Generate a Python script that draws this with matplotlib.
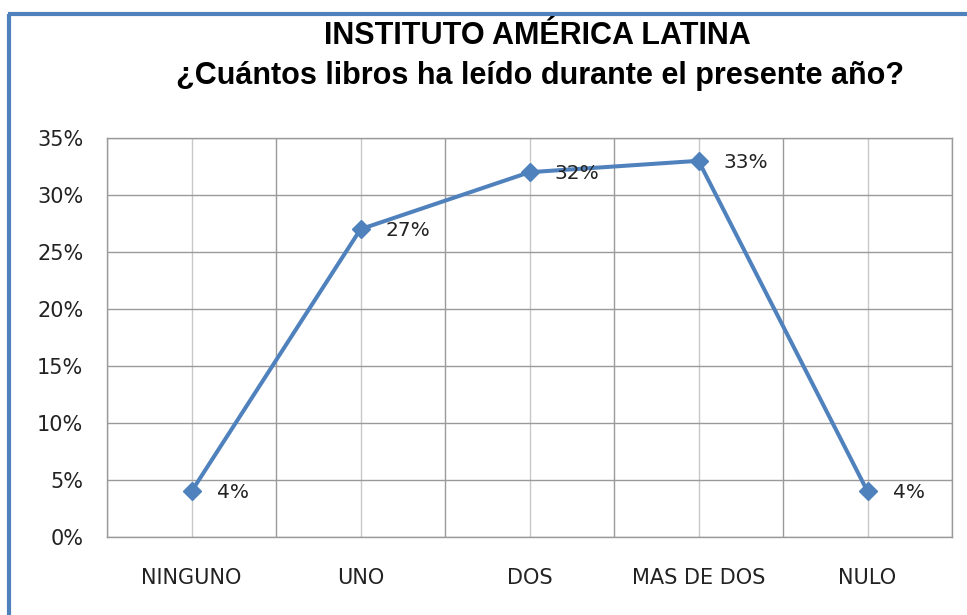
import numpy as np
import matplotlib
matplotlib.use("Agg")
import matplotlib.pyplot as plt
from matplotlib.lines import Line2D
from matplotlib.ticker import FixedLocator, PercentFormatter

# ---------- Data ----------
categorias = ["NINGUNO", "UNO", "DOS", "MAS DE DOS", "NULO"]
porcentajes = [4, 27, 32, 33, 4]
y_ticks = [0, 5, 10, 15, 20, 25, 30, 35]

azul = "#4F81BD"

# ---------- Figure ----------
fig = plt.figure(figsize=(9.67, 6.15), dpi=100)
ax = fig.add_axes([0.1107, 0.1268, 0.8738, 0.6488])

x = np.arange(len(categorias))
ax.plot(x, porcentajes, color=azul, linewidth=2.9, marker="D", markersize=9.5,
        zorder=3)

for xi, v in zip(x, porcentajes):
    ax.annotate(f"{v}%", (xi, v), xytext=(18, -1), textcoords="offset points",
                ha="left", va="center", fontsize=14.5, color="#222222")

ax.set_xlim(-0.5, len(categorias) - 0.5)
ax.set_ylim(0, 35)
ax.set_xticks(x)
ax.set_xticklabels(categorias)
ax.set_yticks(y_ticks)
ax.yaxis.set_major_formatter(PercentFormatter(decimals=0))
ax.xaxis.set_minor_locator(FixedLocator(np.arange(-0.5, len(categorias), 1.0)))

ax.tick_params(axis="both", which="both", length=0, labelsize=15,
               colors="#222222")
ax.tick_params(axis="x", pad=22.5)
ax.tick_params(axis="y", pad=17)

# grid: lighter lines at category centres, darker at boundaries and y ticks
ax.grid(axis="x", which="major", color="#c8c8c8", linewidth=1.0)
ax.grid(axis="x", which="minor", color="#9a9a9a", linewidth=1.0)
ax.grid(axis="y", which="major", color="#9a9a9a", linewidth=1.0)
ax.set_axisbelow(True)
for s in ax.spines.values():
    s.set_color("#9a9a9a")
    s.set_linewidth(1.0)

# ---------- Title ----------
fig.text(0.556, 0.941, "INSTITUTO AMÉRICA LATINA", ha="center", va="center",
         fontsize=22, fontweight="bold", family="Liberation Sans")
fig.text(0.558, 0.876, "¿Cuántos libros ha leído durante el presente año?",
         ha="center", va="center", fontsize=22, fontweight="bold",
         family="Liberation Sans")

# blue frame (left and top edges)
fig.add_artist(Line2D([0.0098, 0.0098], [0.0, 0.978], transform=fig.transFigure,
                      color=azul, linewidth=3, solid_capstyle="butt"))
fig.add_artist(Line2D([0.0082, 1.0], [0.978, 0.978], transform=fig.transFigure,
                      color=azul, linewidth=3, solid_capstyle="butt"))

fig.savefig("out.png", dpi=100)
